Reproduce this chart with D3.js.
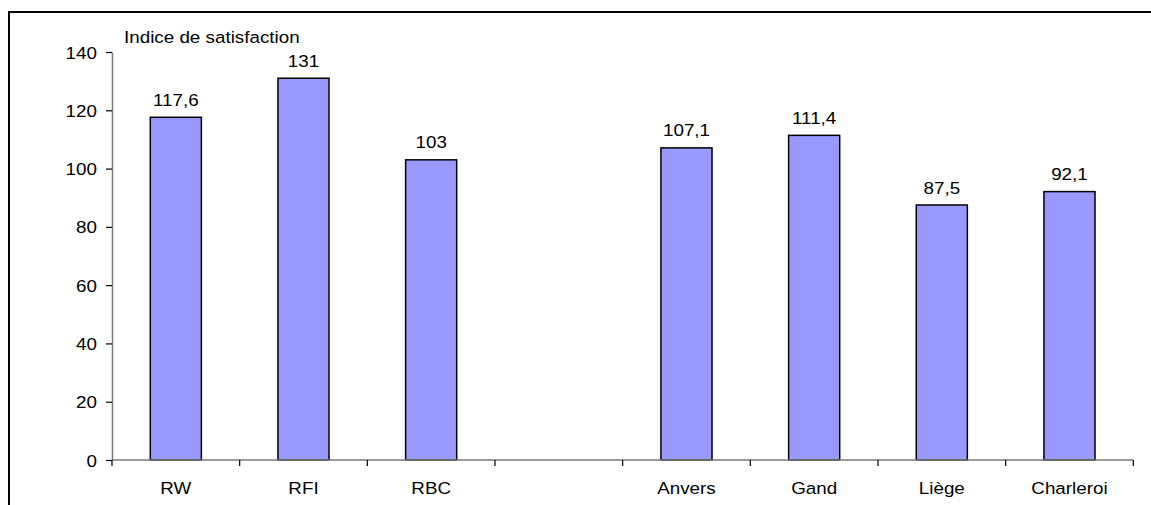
<!DOCTYPE html>
<html>
<head>
<meta charset="utf-8">
<script src="https://cdn.jsdelivr.net/npm/d3@7/dist/d3.min.js"></script>
<style>
  html, body { margin: 0; padding: 0; background: #fff; }
  svg { display: block; }
  text { font-family: "Liberation Sans", Arial, sans-serif; fill: #000; }
</style>
</head>
<body>
<svg id="chart" width="1151" height="505"></svg>
<script>
// Satisfaction index by region and city (the blank slot separates regions from cities)
const categories = ["RW", "RFI", "RBC", "", "Anvers", "Gand", "Liège", "Charleroi"];
const values = [117.6, 131, 103, null, 107.1, 111.4, 87.5, 92.1];
const valueLabels = ["117,6", "131", "103", "", "107,1", "111,4", "87,5", "92,1"];
const yTicks = [0, 20, 40, 60, 80, 100, 120, 140];
const yTitle = "Indice de satisfaction";

const W = 1151, H = 505;
const plot = { left: 112, right: 1133.3, top: 52, bottom: 460 };
const fontSize = 16.5, stretch = 1.14;   // slightly widened type

const svg = d3.select("#chart");

// outer frame (runs off the right and bottom edges)
svg.append("rect")
  .attr("x", 9).attr("y", 12)
  .attr("width", W + 50).attr("height", H + 50)
  .attr("fill", "none").attr("stroke", "#000").attr("stroke-width", 2);

const keys = categories.map((c, i) => i);
const x = d3.scaleBand()
  .domain(keys)
  .range([plot.left, plot.right])
  .paddingInner(0.6)
  .paddingOuter(0.3);

const y = d3.scaleLinear().domain([0, 140]).range([plot.bottom, plot.top]);

const axisColor = "#7a7a7a";

// bars
const data = keys.filter(i => values[i] != null);
svg.append("g").selectAll("rect")
  .data(data)
  .join("rect")
  .attr("x", i => x(i))
  .attr("y", i => y(values[i]))
  .attr("width", x.bandwidth())
  .attr("height", i => y(0) - y(values[i]))
  .attr("fill", "#9999ff")
  .attr("stroke", "#000")
  .attr("stroke-width", 1.5);

// y axis
const gy = svg.append("g")
  .attr("transform", `translate(${plot.left},0)`)
  .call(d3.axisLeft(y).tickValues(yTicks).tickSize(6).tickSizeOuter(0).tickPadding(0));
gy.select(".domain").attr("stroke", axisColor).attr("stroke-width", 1.5);
gy.selectAll(".tick line").attr("stroke", "#000").attr("stroke-width", 1.2);
gy.selectAll(".tick text")
  .attr("x", null).attr("dy", null)
  .attr("font-size", fontSize)
  .attr("font-family", "Liberation Sans, Arial, sans-serif")
  .attr("text-anchor", "end")
  .attr("transform", `translate(-15,6) scale(${stretch},1)`);

// x axis: baseline with ticks on the category boundaries
const step = x.step();
const boundaries = d3.range(categories.length + 1).map(i => plot.left + i * step);
const gx = svg.append("g");
gx.append("line")
  .attr("x1", plot.left).attr("x2", plot.right)
  .attr("y1", y(0)).attr("y2", y(0))
  .attr("stroke", axisColor).attr("stroke-width", 1.5);
gx.selectAll("line.tick")
  .data(boundaries)
  .join("line")
  .attr("class", "tick")
  .attr("x1", d => d).attr("x2", d => d)
  .attr("y1", y(0)).attr("y2", y(0) + 6)
  .attr("stroke", "#000").attr("stroke-width", 1.2);

// category labels
svg.append("g").selectAll("text")
  .data(keys)
  .join("text")
  .attr("transform", i => `translate(${x(i) + x.bandwidth() / 2},${y(0) + 33.5}) scale(${stretch},1)`)
  .attr("text-anchor", "middle")
  .attr("font-size", fontSize)
  .text(i => categories[i]);

// value labels above bars
svg.append("g").selectAll("text")
  .data(data)
  .join("text")
  .attr("transform", i => `translate(${x(i) + x.bandwidth() / 2},${y(values[i]) - 11.5}) scale(${stretch},1)`)
  .attr("text-anchor", "middle")
  .attr("font-size", fontSize)
  .text(i => valueLabels[i]);

// axis title
svg.append("text")
  .attr("transform", `translate(124,43.3) scale(${stretch},1)`)
  .attr("font-size", fontSize)
  .text(yTitle);
</script>
</body>
</html>
